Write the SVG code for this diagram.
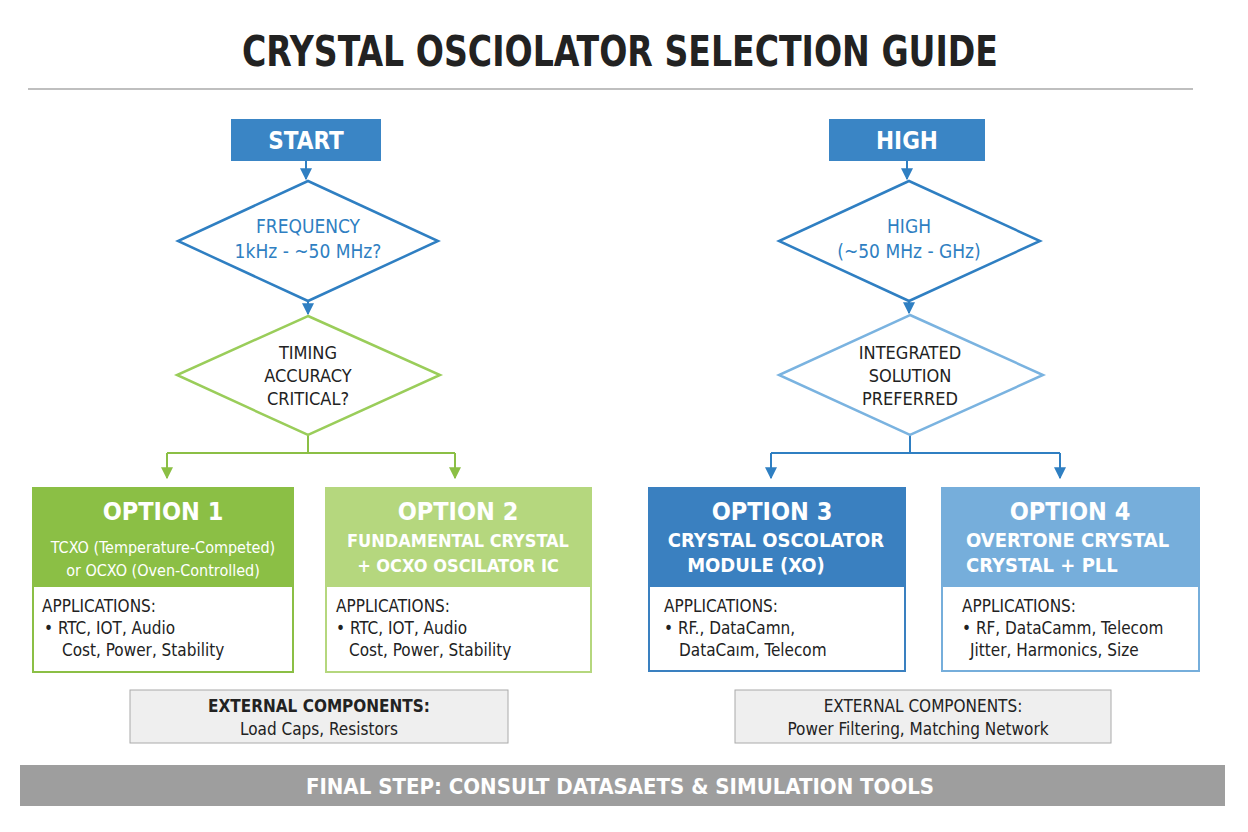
<svg xmlns="http://www.w3.org/2000/svg" width="1248" height="832" viewBox="0 0 1248 832">
<defs>
<style>
text{font-family:"DejaVu Sans Condensed","Liberation Sans",sans-serif;font-weight:bold;text-anchor:middle}
.w{fill:#fff}.b{fill:#2f7fc2}.k{fill:#222}
.r{font-weight:normal}
.n{font-weight:normal;text-anchor:start;fill:#222;font-size:17px}
.conn{stroke-width:2;fill:none}
</style>
<marker id="ab" viewBox="0 0 10 10" refX="9" refY="5" markerWidth="6" markerHeight="6" orient="auto"><path d="M0,0L10,5L0,10z" fill="#2f7fc2"/></marker>
<marker id="ag" viewBox="0 0 10 10" refX="9" refY="5" markerWidth="6" markerHeight="6" orient="auto"><path d="M0,0L10,5L0,10z" fill="#8bbf45"/></marker>
</defs>
<rect width="1248" height="832" fill="#fff"/>
<text x="620" y="66" font-size="42" fill="#222" textLength="756" lengthAdjust="spacingAndGlyphs">CRYSTAL OSCIOLATOR SELECTION GUIDE</text>
<line x1="28" y1="89" x2="1193" y2="89" stroke="#aaa" stroke-width="1.5"/>
<g id="connectors">
<path class="conn" stroke="#2f7fc2" d="M306,161V179" marker-end="url(#ab)"/>
<path class="conn" stroke="#2f7fc2" d="M308,301V314" marker-end="url(#ab)"/>
<path class="conn" stroke="#8bbf45" d="M308,435V453M167,453H455M167,453V478" marker-end="url(#ag)"/>
<path class="conn" stroke="#8bbf45" d="M455,453V478" marker-end="url(#ag)"/>
<path class="conn" stroke="#2f7fc2" d="M907,161V179" marker-end="url(#ab)"/>
<path class="conn" stroke="#2f7fc2" d="M909,301V313" marker-end="url(#ab)"/>
<path class="conn" stroke="#2f7fc2" d="M910,435V453M771,453H1060M771,453V478" marker-end="url(#ab)"/>
<path class="conn" stroke="#2f7fc2" d="M1060,453V478" marker-end="url(#ab)"/>
</g>
<g id="start"><rect x="231" y="119" width="150" height="42" fill="#3a85c5"/><text x="306" y="149" font-size="24" class="w">START</text></g>
<g id="high"><rect x="829" y="119" width="156" height="42" fill="#3a85c5"/><text x="907" y="149" font-size="24" class="w">HIGH</text></g>
<g id="freq"><polygon points="308,181 438,241 308,301 178,241" fill="#fff" stroke="#2f7fc2" stroke-width="2.5"/>
<text x="308" y="233" font-size="19" class="b r">FREQUENCY</text><text x="308" y="258" font-size="19" class="b r">1kHz - ~50 MHz?</text></g>
<g id="timing"><polygon points="308,316 440,375 308,435 177,375" fill="#fff" stroke="#9acd5a" stroke-width="2.5"/>
<text x="308" y="359" font-size="18" class="k r">TIMING</text><text x="308" y="382" font-size="18" class="k r">ACCURACY</text><text x="308" y="405" font-size="18" class="k r">CRITICAL?</text></g>
<g id="highfreq"><polygon points="909,181 1040,241 909,301 779,241" fill="#fff" stroke="#2f7fc2" stroke-width="2.5"/>
<text x="909" y="233" font-size="19" class="b r">HIGH</text><text x="909" y="258" font-size="19" class="b r">(~50 MHz - GHz)</text></g>
<g id="integrated"><polygon points="910,315 1043,375 910,435 779,375" fill="#fff" stroke="#7ab3e0" stroke-width="2.5"/>
<text x="910" y="359" font-size="18" class="k r">INTEGRATED</text><text x="910" y="382" font-size="18" class="k r">SOLUTION</text><text x="910" y="405" font-size="18" class="k r">PREFERRED</text></g>
<g id="opt1"><rect x="33" y="488" width="260" height="184" fill="#fff" stroke="#8bbf45" stroke-width="2"/><rect x="33" y="488" width="260" height="99" fill="#8bbf45"/>
<text x="163" y="520" font-size="25" class="w">OPTION 1</text>
<text x="163" y="553" font-size="16" class="w r">TCXO (Temperature-Competed)</text>
<text x="163" y="576" font-size="16" class="w r">or OCXO (Oven-Controlled)</text>
<text x="42" y="612" class="n">APPLICATIONS:</text><text x="44" y="634" class="n">• RTC, IOT, Audio</text><text x="62" y="656" class="n">Cost, Power, Stability</text></g>
<g id="opt2"><rect x="326" y="488" width="265" height="184" fill="#fff" stroke="#b5d77e" stroke-width="2"/><rect x="326" y="488" width="265" height="99" fill="#b5d77e"/>
<text x="458" y="520" font-size="25" class="w">OPTION 2</text>
<text x="458" y="547" font-size="18" class="w">FUNDAMENTAL CRYSTAL</text>
<text x="458" y="572" font-size="18" class="w">+ OCXO OSCILATOR IC</text>
<text x="336" y="612" class="n">APPLICATIONS:</text><text x="336" y="634" class="n">• RTC, IOT, Audio</text><text x="349" y="656" class="n">Cost, Power, Stability</text></g>
<g id="opt3"><rect x="649" y="488" width="256" height="183" fill="#fff" stroke="#3a80c0" stroke-width="2"/><rect x="649" y="488" width="256" height="99" fill="#3a80c0"/>
<text x="772" y="520" font-size="25" class="w">OPTION 3</text>
<text x="776" y="547" font-size="20" class="w">CRYSTAL OSCOLATOR</text>
<text x="756" y="572" font-size="20" class="w">MODULE (XO)</text>
<text x="664" y="612" class="n">APPLICATIONS:</text><text x="664" y="634" class="n">• RF., DataCamn,</text><text x="679" y="656" class="n">DataCaım, Telecom</text></g>
<g id="opt4"><rect x="942" y="488" width="257" height="183" fill="#fff" stroke="#76aedb" stroke-width="2"/><rect x="942" y="488" width="257" height="99" fill="#76aedb"/>
<text x="1070" y="520" font-size="25" class="w">OPTION 4</text>
<text x="966" y="547" font-size="20" class="w" style="text-anchor:start">OVERTONE CRYSTAL</text>
<text x="966" y="572" font-size="20" class="w" style="text-anchor:start">CRYSTAL + PLL</text>
<text x="962" y="612" class="n">APPLICATIONS:</text><text x="962" y="634" class="n">• RF, DataCamm, Telecom</text><text x="970" y="656" class="n">Jitter, Harmonics, Size</text></g>
<g id="ext1"><rect x="130" y="690" width="378" height="53" fill="#efefef" stroke="#aaa"/>
<text x="319" y="712" font-size="17" class="k">EXTERNAL COMPONENTS:</text><text x="319" y="735" font-size="17" class="k r">Load Caps, Resistors</text></g>
<g id="ext2"><rect x="735" y="690" width="376" height="53" fill="#efefef" stroke="#aaa"/>
<text x="923" y="712" font-size="17" class="k r">EXTERNAL COMPONENTS:</text><text x="918" y="735" font-size="17" class="k r">Power Filtering, Matching Network</text></g>
<g id="final"><rect x="20" y="765" width="1205" height="41" fill="#9e9e9e"/>
<text x="620" y="794" font-size="22" class="w">FINAL STEP: CONSULT DATASAETS &amp; SIMULATION TOOLS</text></g>
</svg>
